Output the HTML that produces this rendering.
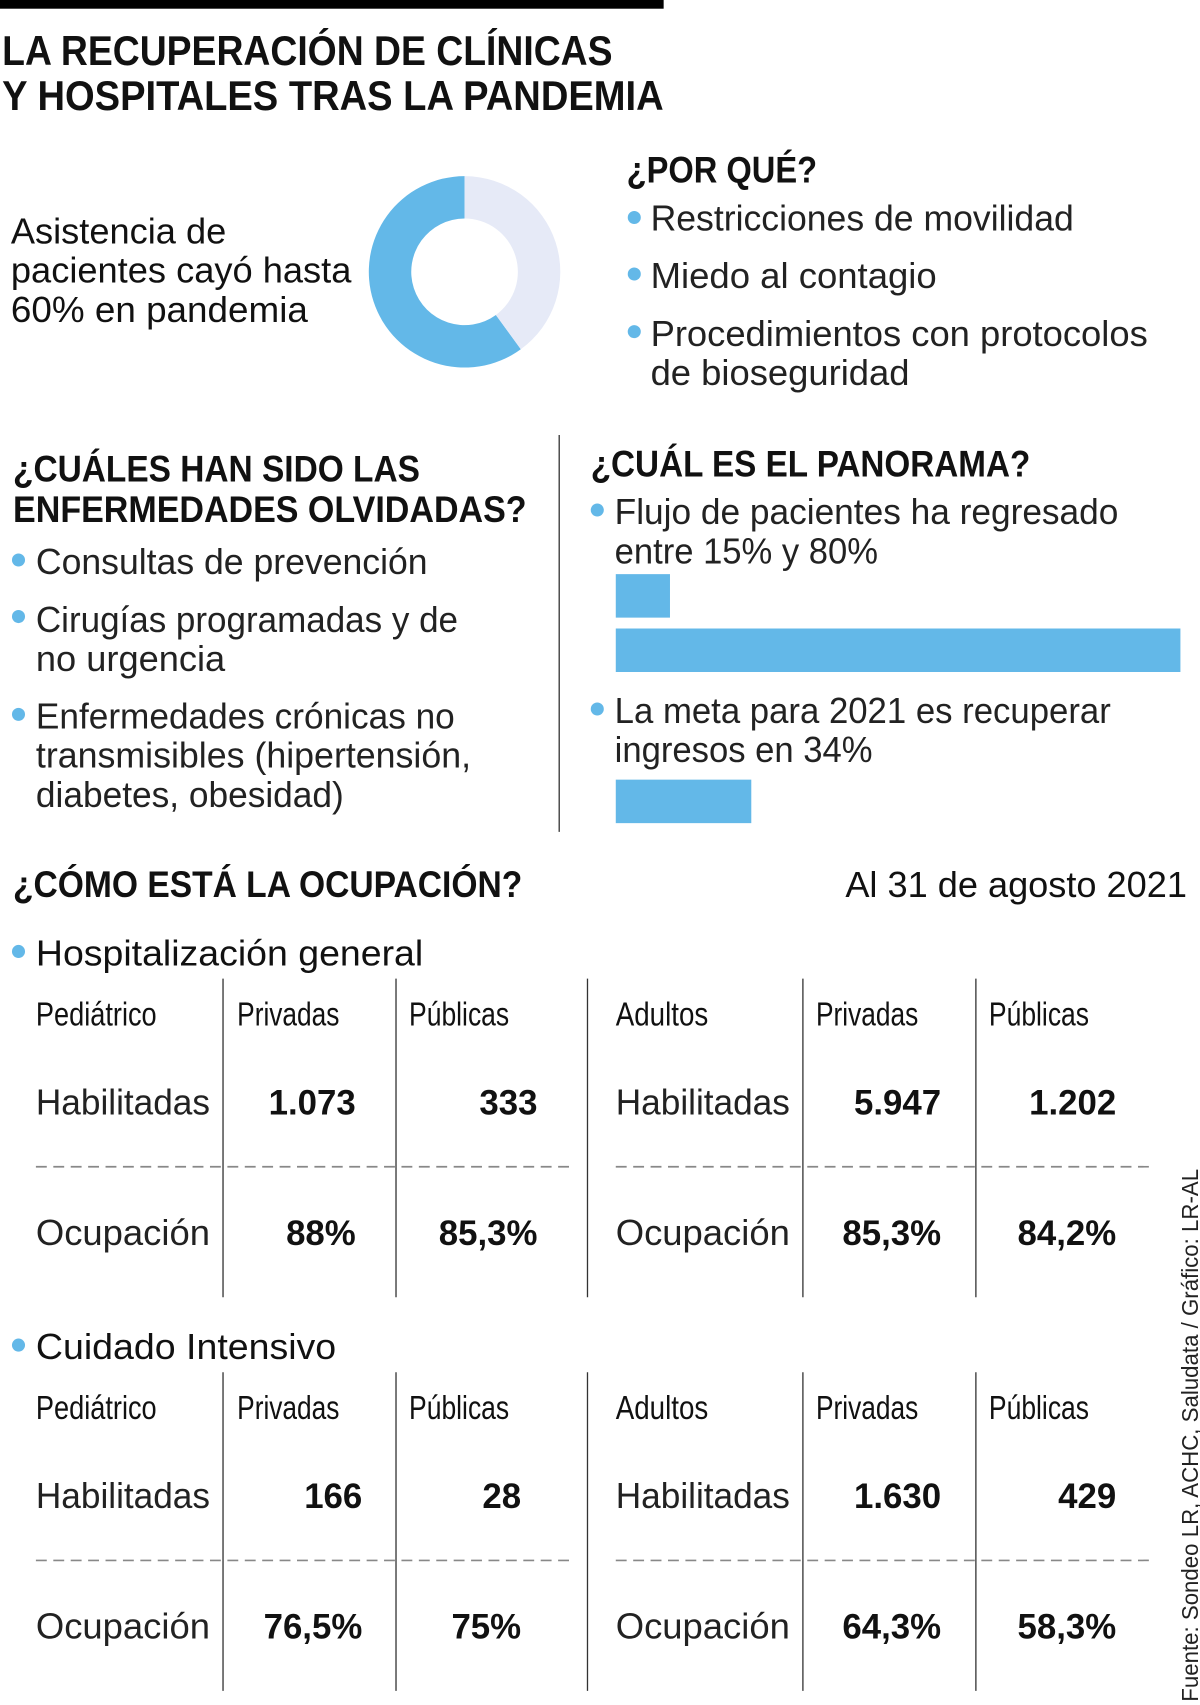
<!DOCTYPE html>
<html><head><meta charset="utf-8">
<style>
html,body{margin:0;padding:0;background:#fff;}
svg{display:block;}
text{font-family:"Liberation Sans",sans-serif;fill:#111;}
.h{font-weight:bold;}
.l{font-weight:normal;fill:#222;}
.v{font-weight:bold;}
</style></head>
<body>
<svg id="root" width="1200" height="1705" viewBox="0 0 1103 1568" preserveAspectRatio="none" xmlns="http://www.w3.org/2000/svg">
<rect x="0" y="0" width="610" height="8" fill="#000"/>
<text class="h" x="2" y="60" font-size="38" textLength="561" lengthAdjust="spacingAndGlyphs">LA RECUPERACIÓN DE CLÍNICAS</text>
<text class="h" x="2" y="101" font-size="38" textLength="608" lengthAdjust="spacingAndGlyphs">Y HOSPITALES TRAS LA PANDEMIA</text>

<g font-size="33">
<text x="10" y="224" textLength="198" lengthAdjust="spacingAndGlyphs">Asistencia de</text>
<text x="10" y="260" textLength="313" lengthAdjust="spacingAndGlyphs">pacientes cayó hasta</text>
<text x="10" y="296" textLength="273" lengthAdjust="spacingAndGlyphs">60% en pandemia</text>
</g>
<g id="donut"></g>

<text class="h" x="576" y="168" font-size="34" textLength="175" lengthAdjust="spacingAndGlyphs">¿POR QUÉ?</text>
<g class="l" font-size="33">
<circle cx="583" cy="200" r="6" fill="#63b8e8"/>
<text class="l" x="598" y="212" textLength="389" lengthAdjust="spacingAndGlyphs">Restricciones de movilidad</text>
<circle cx="583" cy="252" r="6" fill="#63b8e8"/>
<text class="l" x="598" y="265" textLength="263" lengthAdjust="spacingAndGlyphs">Miedo al contagio</text>
<circle cx="583" cy="305" r="6" fill="#63b8e8"/>
<text class="l" x="598" y="318" textLength="457" lengthAdjust="spacingAndGlyphs">Procedimientos con protocolos</text>
<text class="l" x="598" y="354" textLength="238" lengthAdjust="spacingAndGlyphs">de bioseguridad</text>
</g>

<line x1="514" y1="400" x2="514" y2="765" stroke="#333" stroke-width="1.2"/>

<text class="h" x="12" y="443" font-size="34" textLength="374" lengthAdjust="spacingAndGlyphs">¿CUÁLES HAN SIDO LAS</text>
<text class="h" x="12" y="480" font-size="34" textLength="472" lengthAdjust="spacingAndGlyphs">ENFERMEDADES OLVIDADAS?</text>
<g font-size="33">
<circle cx="17" cy="515" r="6" fill="#63b8e8"/>
<text class="l" x="33" y="528" textLength="360" lengthAdjust="spacingAndGlyphs">Consultas de prevención</text>
<circle cx="17" cy="567" r="6" fill="#63b8e8"/>
<text class="l" x="33" y="581" textLength="388" lengthAdjust="spacingAndGlyphs">Cirugías programadas y de</text>
<text class="l" x="33" y="617" textLength="174" lengthAdjust="spacingAndGlyphs">no urgencia</text>
<circle cx="17" cy="657" r="6" fill="#63b8e8"/>
<text class="l" x="33" y="670" textLength="385" lengthAdjust="spacingAndGlyphs">Enfermedades crónicas no</text>
<text class="l" x="33" y="706" textLength="400" lengthAdjust="spacingAndGlyphs">transmisibles (hipertensión,</text>
<text class="l" x="33" y="742" textLength="283" lengthAdjust="spacingAndGlyphs">diabetes, obesidad)</text>
</g>

<text class="h" x="543" y="438" font-size="34" textLength="404" lengthAdjust="spacingAndGlyphs">¿CUÁL ES EL PANORAMA?</text>
<g font-size="33">
<circle cx="549" cy="469" r="6" fill="#63b8e8"/>
<text class="l" x="565" y="482" textLength="463" lengthAdjust="spacingAndGlyphs">Flujo de pacientes ha regresado</text>
<text class="l" x="565" y="518" textLength="242" lengthAdjust="spacingAndGlyphs">entre 15% y 80%</text>
<circle cx="549" cy="652" r="6" fill="#63b8e8"/>
<text class="l" x="565" y="665" textLength="456" lengthAdjust="spacingAndGlyphs">La meta para 2021 es recuperar</text>
<text class="l" x="565" y="701" textLength="237" lengthAdjust="spacingAndGlyphs">ingresos en 34%</text>
</g>
<g id="bars"></g>

<text class="h" x="12" y="825" font-size="34" textLength="468" lengthAdjust="spacingAndGlyphs">¿CÓMO ESTÁ LA OCUPACIÓN?</text>
<text x="1091" y="825" font-size="33" text-anchor="end" textLength="314" lengthAdjust="spacingAndGlyphs">Al 31 de agosto 2021</text>

<g id="tables"></g>

<text class="l" transform="translate(1101,1565) rotate(-90)" x="0" y="0" font-size="21" textLength="490" lengthAdjust="spacingAndGlyphs">Fuente: Sondeo LR, ACHC, Saludata / Gráfico: LR-AL</text>
</svg>
<script>
// Donut data (percent)
const donutLabels = ["Cayó", "Resto"];
const donutValues = [60, 40];
// Panorama bars: displayed length as percent of longest bar
const barLabels = ["15%", "80%", "34%"];
const barLengths = [9.6, 100, 24];
// Table data
const sections = ["Hospitalización general", "Cuidado Intensivo"];
const habPed = [["1.073","333"],["166","28"]];
const ocuPed = [["88%","85,3%"],["76,5%","75%"]];
const habAdu = [["5.947","1.202"],["1.630","429"]];
const ocuAdu = [["85,3%","84,2%"],["64,3%","58,3%"]];

const NS = "http://www.w3.org/2000/svg";
function mk(tag, attrs, parent){const e=document.createElementNS(NS,tag);for(const k in attrs)e.setAttribute(k,attrs[k]);parent.appendChild(e);return e;}

// Donut
(function(){
  const g=document.getElementById('donut');
  const cx=427, cy=250, R=88, r=49;
  const total=donutValues.reduce((a,b)=>a+b,0);
  const colors=["#63b8e8","#e6eaf7"];
  // blue (first) drawn counter-clockwise from top, light clockwise from top
  let startFrac = -donutValues[0]/total;
  donutValues.forEach((v,i)=>{
    const a0=startFrac*2*Math.PI, a1=(startFrac+v/total)*2*Math.PI;
    const p=(ang,rad)=>[cx+rad*Math.sin(ang), cy-rad*Math.cos(ang)];
    const large=(a1-a0)>Math.PI?1:0;
    const [x0,y0]=p(a0,R),[x1,y1]=p(a1,R),[x2,y2]=p(a1,r),[x3,y3]=p(a0,r);
    const path=mk('path',{d:`M${x0},${y0} A${R},${R} 0 ${large} 1 ${x1},${y1} L${x2},${y2} A${r},${r} 0 ${large} 0 ${x3},${y3} Z`,fill:colors[i]},g);
    
    
    startFrac+=v/total;
  });
})();

// Bars
(function(){
  const g=document.getElementById('bars');
  const x0=566, maxW=519;
  const ys=[528,578,717], h=40;
  const xs=v=>v/100*maxW;
  barLengths.forEach((v,i)=>{
    const b=mk('rect',{x:x0,y:ys[i],width:xs(v),height:h,fill:'#63b8e8'},g);
    
    
  });
})();

// Tables
(function(){
  const root=document.getElementById('tables');
  sections.forEach((title,s)=>{
    const dy=s*362;
    const g=mk('g',{},root);
    
    
    mk('circle',{cx:17,cy:875+dy,r:6,fill:'#63b8e8'},g);
    const t=mk('text',{x:33,y:888+dy,'font-size':33,textLength:s===0?356:276,lengthAdjust:'spacingAndGlyphs'},g);
    t.textContent=title;
    [205,364,540,738,897].forEach(x=>mk('line',{x1:x,y1:900+dy,x2:x,y2:1193+dy,stroke:'#333','stroke-width':1.2},g));
    mk('line',{x1:33,y1:1073+dy,x2:523,y2:1073+dy,stroke:'#888','stroke-width':1.5,'stroke-dasharray':'10 6'},g);
    mk('line',{x1:566,y1:1073+dy,x2:1056,y2:1073+dy,stroke:'#888','stroke-width':1.5,'stroke-dasharray':'10 6'},g);
    const heads=[["Pediátrico",33,111],["Privadas",218,94],["Públicas",376,92],["Adultos",566,85],["Privadas",750,94],["Públicas",909,92]];
    heads.forEach(h=>{const e=mk('text',{x:h[1],y:943+dy,'font-size':31,textLength:h[2],lengthAdjust:'spacingAndGlyphs'},g);e.textContent=h[0];});
    [[33,"Habilitadas",1025],[33,"Ocupación",1145],[566,"Habilitadas",1025],[566,"Ocupación",1145]].forEach(r=>{
      const e=mk('text',{class:'l',x:r[0],y:r[2]+dy,'font-size':33,textLength:160,lengthAdjust:'spacingAndGlyphs'},g);e.textContent=r[1];});
    const ends=s===0?[327,494,865,1026]:[333,479,865,1026];
    const put=(txt,x,y)=>{const e=mk('text',{class:'v',x:x,y:y+dy,'font-size':32,'text-anchor':'end'},g);e.textContent=txt;};
    put(habPed[s][0],ends[0],1025);put(habPed[s][1],ends[1],1025);
    put(habAdu[s][0],ends[2],1025);put(habAdu[s][1],ends[3],1025);
    put(ocuPed[s][0],ends[0],1145);put(ocuPed[s][1],ends[1],1145);
    put(ocuAdu[s][0],ends[2],1145);put(ocuAdu[s][1],ends[3],1145);
  });
})();
</script>
</body></html>
